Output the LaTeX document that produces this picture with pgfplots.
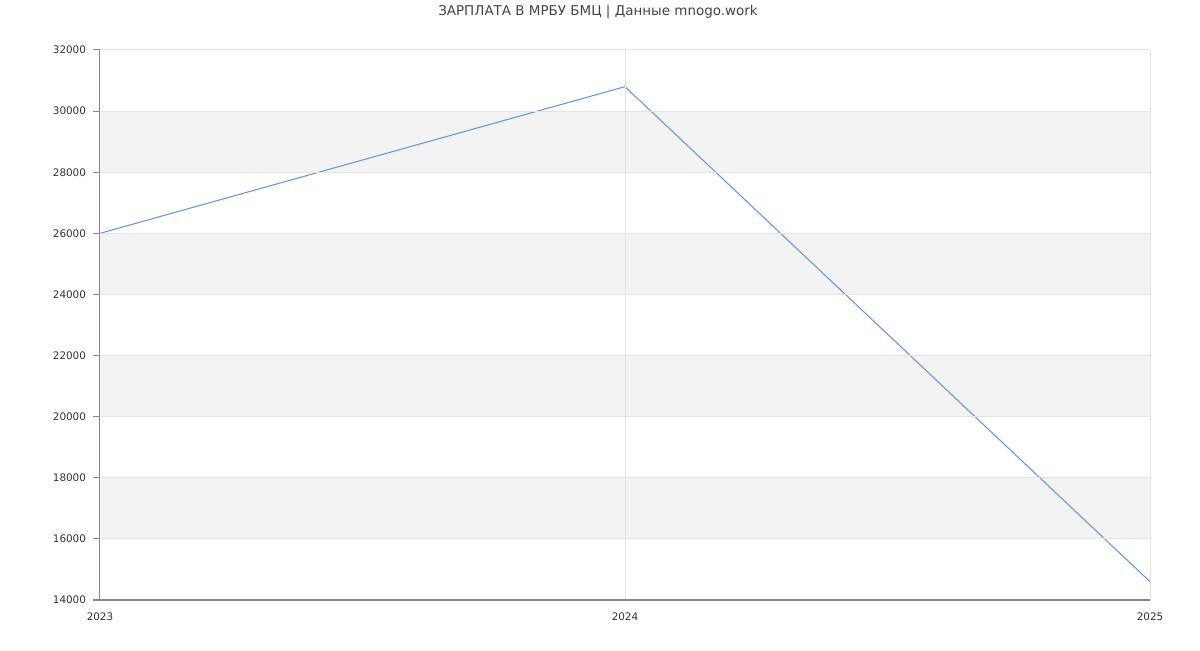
\documentclass[border=0pt]{standalone}
\usepackage{pgfplots}
\pgfplotsset{compat=1.18}
\usepackage{fontspec}
\setmainfont{DejaVu Sans}
\definecolor{linec}{RGB}{100,149,237}
\definecolor{bandc}{RGB}{243,243,243}
\definecolor{gridc}{RGB}{228,228,228}
\definecolor{axc}{RGB}{136,136,136}
\definecolor{txt}{RGB}{51,51,51}
\begin{document}
\begin{tikzpicture}
\begin{axis}[
  at={(0,0)}, anchor=south west,
  scale only axis,
  width=787.5pt, height=412.5pt,
  xmin=2023, xmax=2025, ymin=14000, ymax=32000,
  xtick={2023,2024,2025},
  ytick={14000,16000,...,32000},
  scaled y ticks=false,
  /pgf/number format/1000 sep={},
  /pgf/number format/assume math mode=true,
  axis x line=bottom, axis y line=left,
  axis line style={draw=axc, line width=0.75pt, -},
  grid=major,
  major grid style={draw=gridc, line width=0.75pt},
  x tick style={draw=none},
  y tick style={draw=axc, line width=0.75pt},
  major tick length=5pt,
  tick align=outside,
  ticklabel style={font=\fontsize{7.8}{9}\selectfont, text=txt},
  yticklabel style={xshift=-2pt},
  xticklabel style={yshift=-1pt},
  axis on top,
  clip=false,
]
\fill[bandc] (axis cs:2023,28000) rectangle (axis cs:2025,30000);
\fill[bandc] (axis cs:2023,24000) rectangle (axis cs:2025,26000);
\fill[bandc] (axis cs:2023,20000) rectangle (axis cs:2025,22000);
\fill[bandc] (axis cs:2023,16000) rectangle (axis cs:2025,18000);
\addplot[color=linec, line width=0.8pt, mark=none] coordinates {
  (2023,26000) (2024,30800) (2025,14600)
};
\end{axis}
\node[font=\fontsize{10.1}{12}\selectfont, text={rgb,255:red,68;green,68;blue,68}] at (373.5pt,441pt) {ЗАРПЛАТА В МРБУ БМЦ | Данные mnogo.work};
\path[use as bounding box] (-75pt,-37.5pt) rectangle (825pt,450pt);
\end{tikzpicture}
\end{document}
